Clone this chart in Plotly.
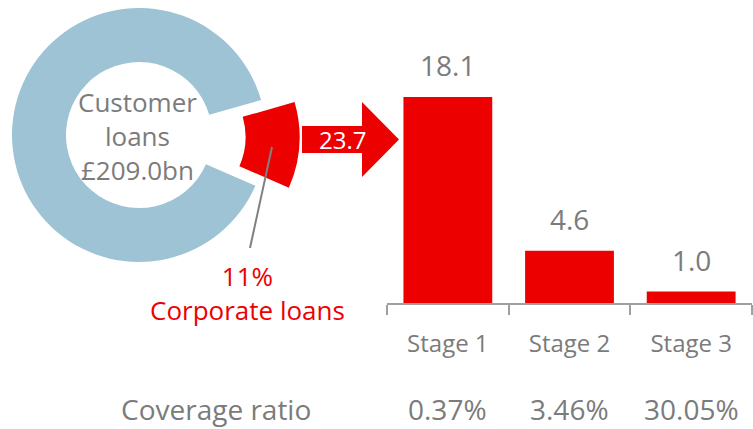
import plotly.graph_objects as go

# ---- data ----
stages = ["Stage 1", "Stage 2", "Stage 3"]
exposure_bn = [18.1, 4.6, 1.0]
coverage_ratio = ["0.37%", "3.46%", "30.05%"]
portfolio_labels = ["Corporate loans", "Other customer loans"]
portfolio_share = [11, 89]
total_customer_loans_bn = 209.0
corporate_loans_bn = 23.7

# ---- style ----
W, H = 753, 429
RED = "#EC0000"
BLUE = "#9DC3D4"
GREY = "#7B7B7B"
AXIS_GREY = "#A0A0A0"
FONT = "Open Sans"
CLEAR = "rgba(0,0,0,0)"


def px(x):
    return x / W


def py(y):
    return 1 - y / H


def dom(cx, cy, r):
    return dict(x=[px(cx - r), px(cx + r)], y=[py(cy + r), py(cy - r)])


fig = go.Figure()

# donut (other loans), corporate slice left empty
fig.add_trace(go.Pie(
    labels=portfolio_labels, values=portfolio_share, sort=False,
    direction="clockwise", rotation=74, hole=0.575,
    marker=dict(colors=[CLEAR, BLUE], line=dict(width=0)),
    textinfo="none", hoverinfo="label+percent", showlegend=False,
    domain=dom(139, 135, 127),
))
# exploded corporate slice
fig.add_trace(go.Pie(
    labels=portfolio_labels, values=portfolio_share, sort=False,
    direction="clockwise", rotation=74, hole=0.575,
    marker=dict(colors=[RED, CLEAR], line=dict(width=0)),
    textinfo="none", hoverinfo="label+percent", showlegend=False,
    domain=dom(172.5, 137, 127),
))

# bars
fig.add_trace(go.Bar(
    x=stages, y=exposure_bn, marker=dict(color=RED, line=dict(width=0)),
    width=0.73, showlegend=False, hoverinfo="x+y",
))

annotations = []
for s, v in zip(stages, exposure_bn):
    annotations.append(dict(
        x=s, y=v, xref="x", yref="y", text=f"{v:.1f}", showarrow=False,
        xanchor="center", yanchor="bottom", yshift=11,
        font=dict(family=FONT, size=28, color=GREY),
    ))
for s, c in zip(stages, coverage_ratio):
    annotations.append(dict(
        x=s, y=0, xref="x", yref="paper", text=c, showarrow=False,
        xanchor="center", yanchor="bottom", borderpad=0,
        font=dict(family=FONT, size=28, color=GREY),
    ))
annotations += [
    dict(x=px(216), y=0, xref="paper", yref="paper", text="Coverage ratio",
         showarrow=False, xanchor="center", yanchor="bottom", borderpad=0,
         font=dict(family=FONT, size=28, color=GREY)),
    dict(x=px(137), y=py(136), xref="paper", yref="paper",
         text=f"Customer<br>loans<br>£{total_customer_loans_bn:.1f}bn",
         showarrow=False, xanchor="center", yanchor="middle",
         font=dict(family=FONT, size=26, color=GREY)),
    dict(x=px(247), y=py(293), xref="paper", yref="paper",
         text=f"{portfolio_share[0]}%<br>{portfolio_labels[0]}",
         showarrow=False, xanchor="center", yanchor="middle",
         font=dict(family=FONT, size=26, color=RED)),
    dict(x=px(342), y=py(139), xref="paper", yref="paper",
         text=f"{corporate_loans_bn:.1f}",
         showarrow=False, xanchor="center", yanchor="middle",
         font=dict(family=FONT, size=24, color="white")),
]

# arrow shape
pts = [(302, 126), (362, 126), (362, 102), (399, 139.5), (362, 177), (362, 153), (302, 153)]
path = "M " + " L ".join(f"{px(x):.5f},{py(y):.5f}" for x, y in pts) + " Z"
shapes = [
    dict(type="path", path=path, xref="paper", yref="paper",
         fillcolor=RED, line=dict(width=0), layer="below"),
    dict(type="line", x0=px(272), y0=py(147), x1=px(250), y1=py(248),
         xref="paper", yref="paper", line=dict(color="#808080", width=2)),
]

y_bottom = 303
y_top = y_bottom - 20 * 11.38
fig.update_layout(
    width=W, height=H, autosize=False,
    margin=dict(l=0, r=0, t=0, b=0),
    paper_bgcolor="white", plot_bgcolor="white",
    font=dict(family=FONT, color=GREY),
    xaxis=dict(domain=[px(387), px(752)], range=[-0.5, 2.5], type="category",
               showline=True, linecolor=AXIS_GREY, linewidth=1.5,
               ticks="outside", tickson="boundaries", ticklen=10, tickwidth=1.5,
               tickcolor=AXIS_GREY, showgrid=False, zeroline=False,
               tickfont=dict(family=FONT, size=24, color=GREY),
               ticklabelstandoff=18),
    yaxis=dict(domain=[py(y_bottom), py(y_top)], range=[0, 20], visible=False,
               showgrid=False, zeroline=False),
    annotations=annotations,
    shapes=shapes,
    bargap=0.27,
)

fig.write_html(
    "out.html",
    config={"displayModeBar": False},
    post_script="document.body.style.margin='0';document.body.style.padding='0';",
)
